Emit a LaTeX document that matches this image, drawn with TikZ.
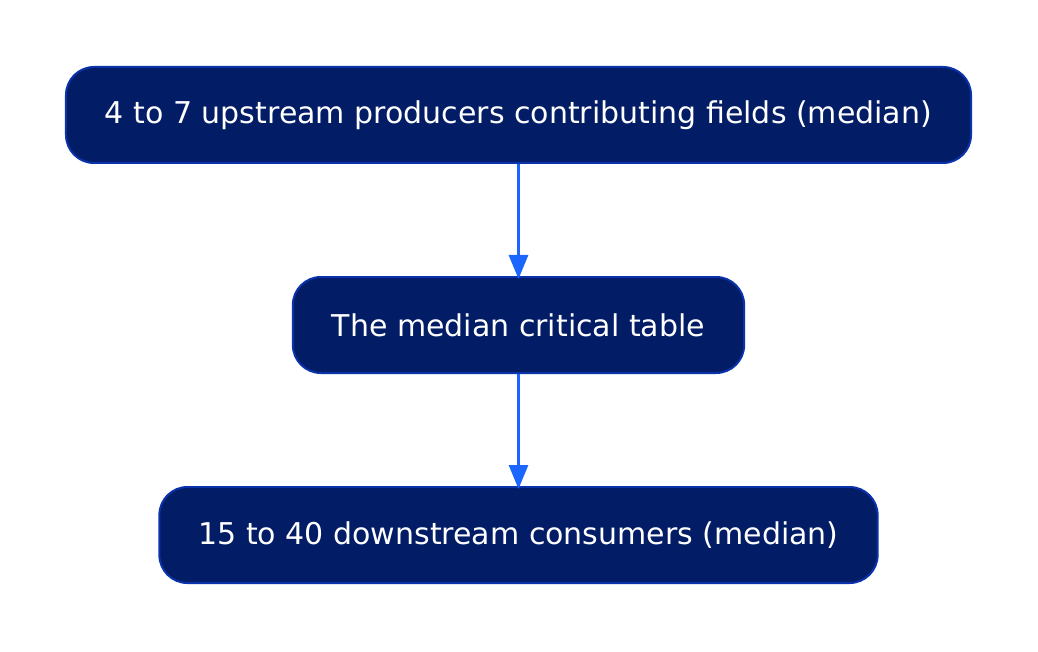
\documentclass[tikz,border=0pt]{standalone}
\usepackage{fontspec}
\setmainfont{DejaVu Sans}
\definecolor{navyfill}{RGB}{2, 28, 102}
\definecolor{navyedge}{RGB}{10, 50, 170}
\definecolor{linkblue}{RGB}{26, 102, 255}
\usetikzlibrary{arrows.meta, positioning}

\begin{document}
\begin{tikzpicture}[
    box/.style={draw=navyedge, line width=2pt, fill=navyfill, rounded corners=28pt,
                text=white, minimum height=96pt, inner xsep=39pt,
                font=\fontsize{30}{36}\selectfont},
    arr/.style={-{Triangle[length=24pt, width=19pt]}, line width=3pt, linkblue,
                shorten >=-3pt}
  ]
    \useasboundingbox (0,0) rectangle (1038pt,-652pt);
    \node[box] (src) at (518.5pt,-115pt) {4 to 7 upstream producers contributing fields (median)};
    \node[box, below=112pt of src] (tbl) {The median critical table};
    \node[box, below=112pt of tbl] (dst) {15 to 40 downstream consumers (median)};
    \draw[arr] (src) -- (tbl);
    \draw[arr] (tbl) -- (dst);
  \end{tikzpicture}
\end{document}
